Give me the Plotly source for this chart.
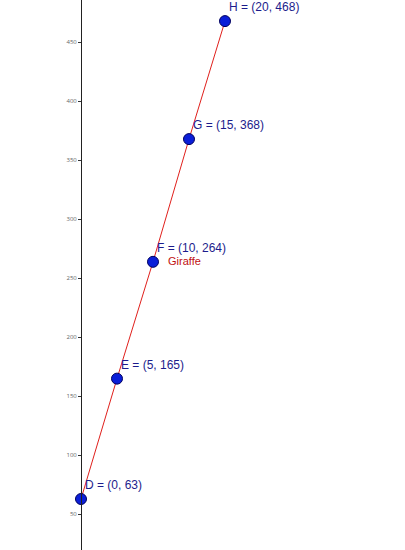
import plotly.graph_objects as go

names = ["D", "E", "F", "G", "H"]
xs = [0, 5, 10, 15, 20]
ys = [63, 165, 264, 368, 468]
series_label = "Giraffe"
yticks = [50, 100, 150, 200, 250, 300, 350, 400, 450]

fig = go.Figure()
fig.add_trace(go.Scatter(x=xs, y=ys, mode="lines", line=dict(color="#e0201c", width=1),
                         hoverinfo="skip", showlegend=False))
fig.add_trace(go.Scatter(x=xs, y=ys, mode="markers",
                         marker=dict(size=11, color="#0a1ed8", line=dict(color="#000060", width=1)),
                         showlegend=False))

for n, x, y in zip(names, xs, ys):
    fig.add_annotation(x=x, y=y, text=f"{n} = ({x}, {y})", showarrow=False,
                       xanchor="left", yanchor="middle", xshift=2, yshift=14,
                       font=dict(family="Liberation Sans, Arial", size=12, color="#1c1c8c"))

fig.add_annotation(x=xs[2], y=ys[2], text=series_label, showarrow=False,
                   xanchor="left", yanchor="middle", xshift=13, yshift=1,
                   font=dict(family="Liberation Sans, Arial", size=11, color="#c01010"))

fig.update_layout(
    width=405, height=550,
    margin=dict(l=0, r=0, t=0, b=0, autoexpand=False),
    paper_bgcolor="white", plot_bgcolor="white",
    xaxis=dict(range=[-81/7.2, (405-81)/7.2], visible=False, showgrid=False, zeroline=False),
    yaxis=dict(range=[63 - 51/1.18, 63 + 499/1.18], showgrid=False, zeroline=False,
               anchor="free", position=0.2, showline=True, linecolor="#222", linewidth=1,
               ticks="outside", ticklen=3, tickcolor="#333", automargin=False,
               tickvals=yticks, ticktext=[str(v) for v in yticks],
               tickfont=dict(size=6, color="#666")),
)

fig.write_html("out.html", config={"displayModeBar": False},
               post_script="document.body.style.margin='0px';document.body.style.overflow='hidden';")
